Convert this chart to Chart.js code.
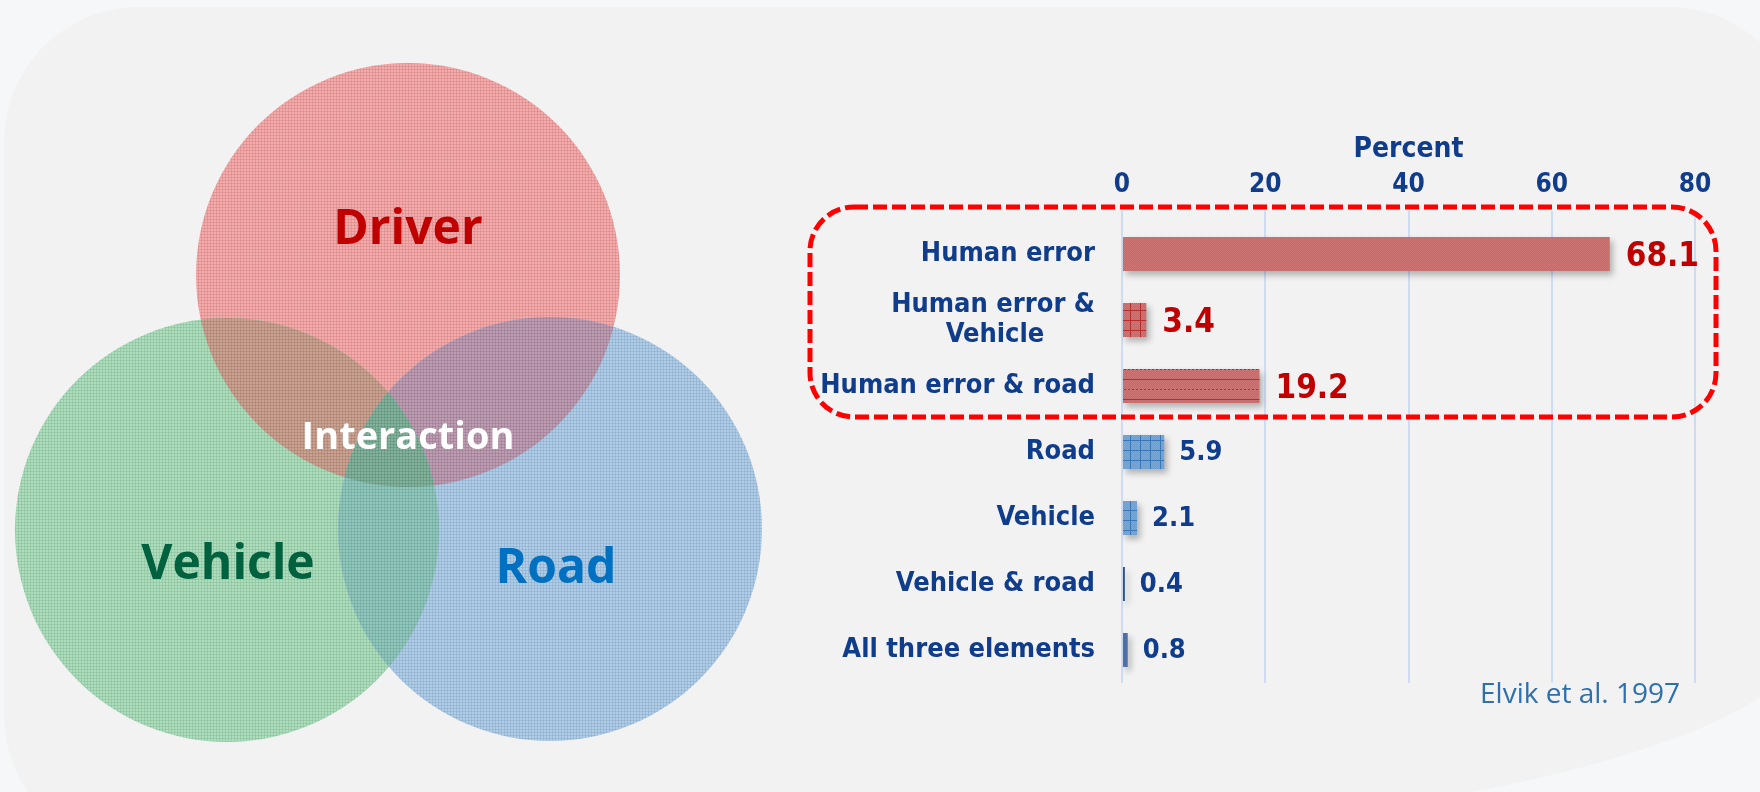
<!DOCTYPE html>
<html>
<head>
<meta charset="utf-8">
<script src="https://cdn.jsdelivr.net/npm/chart.js@4.4.1/dist/chart.umd.min.js"></script>
<style>
  body { margin: 0; width: 1760px; height: 792px; overflow: hidden; background: #f6f7f9; position: relative; }
  .panel { position: absolute; left: 4px; top: 7px; width: 1800px; height: 843px; background: #f2f2f2;
           border-radius: 135px 135px 1050px 135px / 135px 135px 215px 135px; }
  #vennChart { position: absolute; left: 0; top: 0; }
  #barChart { position: absolute; left: 800px; top: 0; }
</style>
</head>
<body>
<div class="panel"></div>
<canvas id="vennChart" width="800" height="792"></canvas>
<canvas id="barChart" width="960" height="792"></canvas>
<script>
// bar chart data
const categories = ["Human error", ["Human error &", "Vehicle"], "Human error & road", "Road", "Vehicle", "Vehicle & road", "All three elements"];
const percents = [68.1, 3.4, 19.2, 5.9, 2.1, 0.4, 0.8];
const humanError = [true, true, true, false, false, false, false];
const xTicks = [0, 20, 40, 60, 80];
const axisTitle = "Percent";
const sourceNote = "Elvik et al. 1997";

// venn diagram
const vennNames = ["Driver", "Vehicle", "Road"];
const vennX = [408, 227, 550];
const vennY = [275, 530, 529];
const vennR = [212, 212, 212];
const centerLabel = "Interaction";

const condensed = '"DejaVu Sans Condensed", "Liberation Sans Narrow", sans-serif';
const navy = "#103c8c";

function makePattern(base, mark, kind) {
  const c = document.createElement("canvas");
  const s = kind === "lines" ? 20 : 10;
  c.width = s;
  c.height = s;
  const g = c.getContext("2d");
  g.fillStyle = base;
  g.fillRect(0, 0, s, s);
  // fine checker texture
  g.fillStyle = "rgba(255,255,255,0.10)";
  for (let y = 0; y < s; y++) {
    for (let x = y % 2; x < s; x += 2) g.fillRect(x, y, 1, 1);
  }
  g.fillStyle = mark;
  if (kind === "grid") {
    g.fillRect(0, 0, s, 1);
    g.fillRect(0, 0, 1, s);
  }
  if (kind === "lines") {
    g.fillRect(0, s - 1, s, 1);
    for (let x = 0; x < s; x += 4) g.fillRect(x, 9, 2, 1);
  }
  return g.createPattern(c, "repeat");
}

// small-grid texture like the office pattern fill
function vennPattern(base) {
  const c = document.createElement("canvas");
  c.width = 3;
  c.height = 3;
  const g = c.getContext("2d");
  g.fillStyle = base;
  g.fillRect(0, 0, 3, 3);
  g.fillStyle = "rgba(255,255,255,0.12)";
  g.fillRect(1, 1, 2, 2);
  g.fillStyle = "rgba(0,0,0,0.05)";
  g.fillRect(0, 0, 3, 1);
  g.fillRect(0, 0, 1, 3);
  return g.createPattern(c, "repeat");
}

// ---------- VENN ----------
const vennFills = [vennPattern("#f2a0a0"), vennPattern("#a2d9b4"), vennPattern("#a5c6e4")];
const overlapFills = {
  "0-1": vennPattern("#c29684"),
  "0-2": vennPattern("#b490a8"),
  "1-2": vennPattern("#83bfb4"),
  "0-1-2": vennPattern("#73a890"),
};

const vennOverlaps = {
  id: "vennOverlaps",
  afterDatasetsDraw(chart) {
    const ctx = chart.ctx;
    const els = chart.getDatasetMeta(0).data;
    Object.keys(overlapFills).forEach((key) => {
      ctx.save();
      key.split("-").forEach((k) => {
        const el = els[+k];
        ctx.beginPath();
        ctx.arc(el.x, el.y, el.options.radius, 0, Math.PI * 2);
        ctx.clip();
      });
      ctx.fillStyle = overlapFills[key];
      ctx.fillRect(0, 0, chart.width, chart.height);
      ctx.restore();
    });
  },
};

const vennText = {
  id: "vennText",
  afterDraw(chart) {
    const { ctx, scales } = chart;
    const px = (v) => scales.x.getPixelForValue(v);
    const py = (v) => scales.y.getPixelForValue(v);
    const colors = ["#c00000", "#00613f", "#0070c0"];
    const shift = [[0, -31], [1, 49], [6, 54]];
    ctx.save();
    ctx.textAlign = "center";
    ctx.textBaseline = "alphabetic";
    ctx.font = 'bold 48px "Open Sans", sans-serif';
    vennNames.forEach((name, i) => {
      ctx.fillStyle = colors[i];
      ctx.fillText(name, px(vennX[i]) + shift[i][0], py(vennY[i]) + shift[i][1]);
    });
    ctx.font = 'bold 38px "Open Sans", sans-serif';
    ctx.fillStyle = "#ffffff";
    ctx.fillText(centerLabel, px(vennX[0]), py(vennY[0]) + 174);
    ctx.restore();
  },
};

new Chart(document.getElementById("vennChart"), {
  type: "bubble",
  data: {
    datasets: [
      {
        data: vennNames.map((n, i) => ({ x: vennX[i], y: vennY[i], r: vennR[i] })),
        backgroundColor: vennFills,
        borderWidth: 0,
        hoverRadius: 0,
        clip: false,
      },
    ],
  },
  options: {
    responsive: false,
    animation: false,
    events: [],
    layout: { padding: 0, autoPadding: false },
    plugins: { legend: { display: false }, tooltip: { enabled: false } },
    scales: {
      x: { display: false, min: 0, max: 800 },
      y: { display: false, min: 0, max: 792, reverse: true },
    },
  },
  plugins: [vennOverlaps, vennText],
});

// ---------- BARS ----------
const barFills = [
  makePattern("#c96666", "#b52d2d", "plain"),
  makePattern("#c96666", "#b52d2d", "grid"),
  makePattern("#c96666", "#b52d2d", "lines"),
  makePattern("#6a9fd2", "#3a77b6", "grid"),
  makePattern("#6a9fd2", "#3a77b6", "grid"),
  "#2b4f8c",
  "#4d70a8",
];

const barShadow = {
  id: "barShadow",
  beforeDatasetDraw(chart) {
    const ctx = chart.ctx;
    ctx.save();
    ctx.shadowColor = "rgba(0,0,0,0.28)";
    ctx.shadowBlur = 6;
    ctx.shadowOffsetX = 3;
    ctx.shadowOffsetY = 4;
  },
  afterDatasetDraw(chart) {
    chart.ctx.restore();
  },
};

const valueLabels = {
  id: "valueLabels",
  afterDatasetsDraw(chart) {
    const ctx = chart.ctx;
    const meta = chart.getDatasetMeta(0);
    ctx.save();
    ctx.textAlign = "left";
    ctx.textBaseline = "middle";
    meta.data.forEach((bar, i) => {
      if (humanError[i]) {
        ctx.font = "bold 33px " + condensed;
        ctx.fillStyle = "#c00000";
        ctx.fillText(percents[i].toFixed(1), bar.x + 16, bar.y + 3);
      } else {
        ctx.font = "bold 27px " + condensed;
        ctx.fillStyle = navy;
        ctx.fillText(percents[i].toFixed(1), bar.x + 15, bar.y + 1);
      }
    });
    ctx.restore();
  },
};

const humanBox = {
  id: "humanBox",
  afterDraw(chart) {
    const { ctx, chartArea, scales } = chart;
    const firstHuman = humanError.indexOf(true);
    const lastHuman = humanError.lastIndexOf(true);
    const top = scales.y.getPixelForValue(firstHuman) - 47;
    const bottom = scales.y.getPixelForValue(lastHuman) + 31;
    const left = chartArea.left - 312;
    const right = chartArea.right + 21;
    ctx.save();
    ctx.strokeStyle = "#ff0000";
    ctx.lineWidth = 5;
    ctx.setLineDash([14, 5]);
    ctx.beginPath();
    ctx.roundRect(left, top, right - left, bottom - top, 44);
    ctx.stroke();
    ctx.restore();

    // source note
    ctx.save();
    ctx.font = '28px "Open Sans", sans-serif';
    ctx.fillStyle = "#2e70ae";
    ctx.textAlign = "right";
    ctx.textBaseline = "alphabetic";
    ctx.fillText(sourceNote, chartArea.right - 15, chartArea.bottom + 20);
    ctx.restore();
  },
};

new Chart(document.getElementById("barChart"), {
  type: "bar",
  data: {
    labels: categories,
    datasets: [
      {
        data: percents,
        backgroundColor: barFills,
        borderWidth: 0,
        barPercentage: 0.515,
        categoryPercentage: 1,
      },
    ],
  },
  options: {
    indexAxis: "y",
    responsive: false,
    animation: false,
    events: [],
    layout: { padding: { top: 120, right: 65, bottom: 109, left: 0 } },
    plugins: { legend: { display: false }, tooltip: { enabled: false } },
    scales: {
      x: {
        position: "top",
        min: 0,
        max: 80,
        afterBuildTicks: (s) => {
          s.ticks = xTicks.map((v) => ({ value: v }));
        },
        afterFit: (s) => {
          s.height = 101;
        },
        ticks: {
          padding: 10,
          color: navy,
          font: { family: condensed, size: 26, weight: "bold" },
        },
        grid: { color: "#cddcf3", lineWidth: 2, drawTicks: true, tickLength: 10 },
        border: { display: false },
        title: {
          display: true,
          text: axisTitle,
          color: navy,
          padding: { top: 13, bottom: 0 },
          font: { family: condensed, size: 28, weight: "bold" },
        },
      },
      y: {
        afterFit: (s) => {
          s.width = 322;
        },
        ticks: {
          padding: 27,
          color: navy,
          font: { family: condensed, size: 27, weight: "bold", lineHeight: 1.1 },
          callback: (value, i) => {
            const l = categories[i];
            // second line sits centred under the first
            return Array.isArray(l) ? [l[0], l[1] + "      "] : l;
          },
        },
        grid: { display: false, drawTicks: false },
        border: { display: false },
      },
    },
  },
  plugins: [barShadow, valueLabels, humanBox],
});
</script>
</body>
</html>
